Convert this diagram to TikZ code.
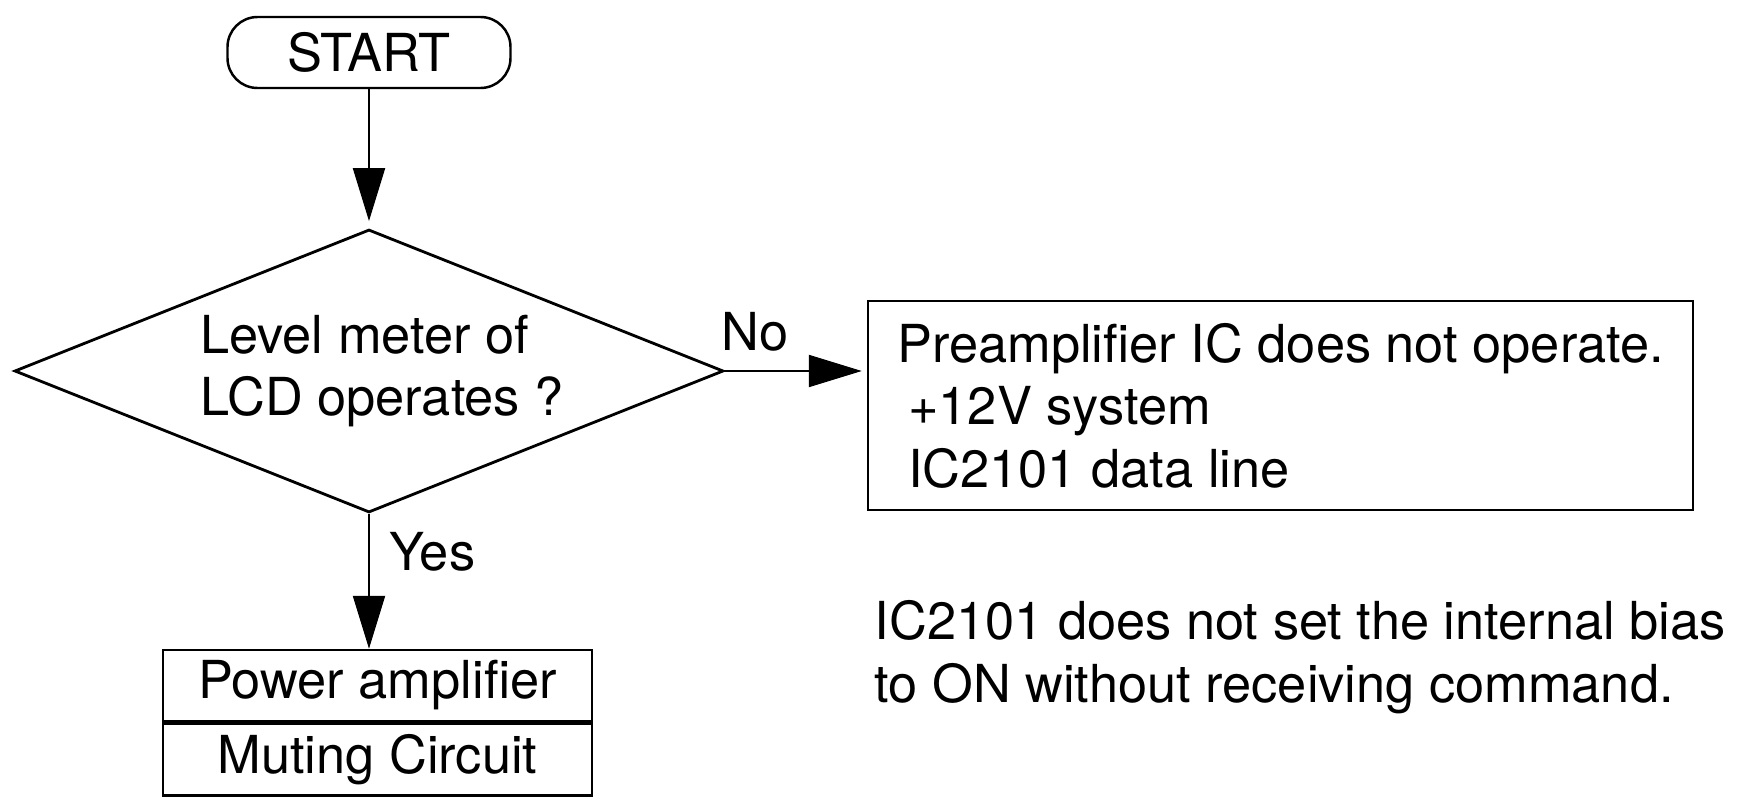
\documentclass[tikz,border=0pt]{standalone}
\usepackage{fontspec}
\setmainfont{TeX Gyre Heros}
\usetikzlibrary{arrows.meta, positioning, shapes.geometric}

\begin{document}
\begin{tikzpicture}[font=\fontsize{14.9}{17.8}\selectfont, box/.style={draw, line width=0.7pt, inner sep=0pt}, decision/.style={diamond, draw, line width=0.8pt, aspect=2.5, minimum width=7.09cm, minimum height=2.83cm, inner sep=0pt, align=left}, arrow/.style={-{Triangle[length=5.3mm, width=3.2mm]}, line width=0.6pt}]
\useasboundingbox (0,0) rectangle (17.46,7.96);
\node[box, rounded corners=0.3cm, minimum width=2.83cm, minimum height=0.71cm] (start) at (3.69,7.435) {START};
\node[decision] (meter) at (3.69,4.25) {\hspace*{0.26cm}Level meter of\\\hspace*{0.26cm}LCD operates ?};
\node[box, minimum width=8.25cm, minimum height=2.09cm, align=left] (preamp) at (12.805,3.905) {Preamplifier IC does not operate.\\\hspace*{0.11cm}+12V system\\\hspace*{0.11cm}IC2101 data line};
\node[box, minimum width=4.29cm, minimum height=0.71cm] (power) at (3.775,1.105) {Power amplifier};
\node[box, minimum width=4.29cm, minimum height=0.72cm, below=0pt of power] (muting) {Muting Circuit};
\draw[arrow, shorten >=0.07cm] (start.south) -- (meter.north);
\draw[arrow, shorten >=0.05cm] (meter.east) -- (meter.east -| preamp.west);
\draw[arrow] (meter.south) -- (meter.south |- power.north);
\node[anchor=base west, inner sep=0pt] (no) at (7.21,4.46) {No};
\node[anchor=base west, inner sep=0pt] (yes) at (3.89,2.26) {Yes};
\node[anchor=base west, inner sep=0pt, align=left] (note) at (8.74,0.94) {IC2101 does not set the internal bias\\to ON without receiving command.};
\end{tikzpicture}
\end{document}
